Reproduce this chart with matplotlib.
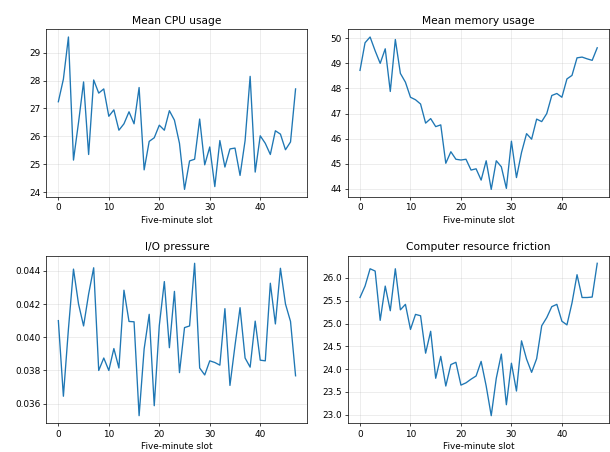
import matplotlib

matplotlib.use("Agg")
import matplotlib.pyplot as plt
import numpy as np

SLOTS = np.arange(48)

CPU = [27.24, 28.05, 29.56, 25.15, 26.5, 27.95, 25.35, 28.02, 27.55, 27.7,
       26.72, 26.95, 26.22, 26.45, 26.88, 26.45, 27.75, 24.8, 25.82, 25.95,
       26.4, 26.22, 26.92, 26.58, 25.75, 24.1, 25.12, 25.18, 26.62, 24.98,
       25.62, 24.2, 25.85, 24.9, 25.55, 25.58, 24.6, 25.85, 28.15, 24.72,
       26.02, 25.75, 25.35, 26.2, 26.08, 25.52, 25.8, 27.7]
MEM = [48.72, 49.82, 50.05, 49.5, 49.0, 49.58, 47.88, 49.95, 48.6, 48.25,
       47.65, 47.55, 47.38, 46.62, 46.8, 46.48, 46.55, 45.02, 45.48, 45.18,
       45.15, 45.18, 44.75, 44.8, 44.35, 45.12, 43.98, 45.12, 44.88, 44.02,
       45.9, 44.45, 45.45, 46.2, 45.98, 46.78, 46.68, 47.0, 47.72, 47.8,
       47.65, 48.38, 48.52, 49.22, 49.25, 49.18, 49.12, 49.62]
IO = [0.0410, 0.03645, 0.0405, 0.0441, 0.0420, 0.04068, 0.0426, 0.04418, 0.0380, 0.03875,
      0.0380, 0.03932, 0.03815, 0.04283, 0.04095, 0.04093, 0.03528, 0.0393, 0.04138, 0.03588,
      0.0407, 0.04335, 0.03937, 0.04276, 0.03787, 0.04058, 0.04068, 0.04445, 0.03815, 0.03773,
      0.03858, 0.03848, 0.03832, 0.04172, 0.0371, 0.0395, 0.04178, 0.03875, 0.0382, 0.04097,
      0.03862, 0.03858, 0.04325, 0.0408, 0.04415, 0.0420, 0.04095, 0.03768]
FRICTION = [25.57, 25.82, 26.2, 26.15, 25.07, 25.82, 25.28, 26.2, 25.3, 25.42,
            24.87, 25.2, 25.17, 24.35, 24.83, 23.8, 24.28, 23.63, 24.1, 24.15,
            23.65, 23.7, 23.78, 23.85, 24.17, 23.63, 22.98, 23.8, 24.33, 23.22,
            24.13, 23.52, 24.62, 24.22, 23.93, 24.23, 24.95, 25.13, 25.37, 25.42,
            25.05, 24.97, 25.45, 26.07, 25.57, 25.57, 25.58, 26.32]

PANELS = [
    ("Mean CPU usage", CPU),
    ("Mean memory usage", MEM),
    ("I/O pressure", IO),
    ("Computer resource friction", FRICTION),
]

DPI = 64
fig, axes = plt.subplots(2, 2, figsize=(610 / DPI, 452 / DPI), dpi=DPI)
for ax, (title, vals) in zip(axes.flat, PANELS):
    ax.plot(SLOTS, vals, color="#1f77b4")
    ax.set_title(title)
    ax.set_xlabel("Five-minute slot")
    ax.grid(alpha=0.3)
fig.subplots_adjust(left=0.0762, right=0.9985, top=0.935, bottom=0.0635,
                    wspace=0.156, hspace=0.35)
fig.savefig("out.png", dpi=DPI)
